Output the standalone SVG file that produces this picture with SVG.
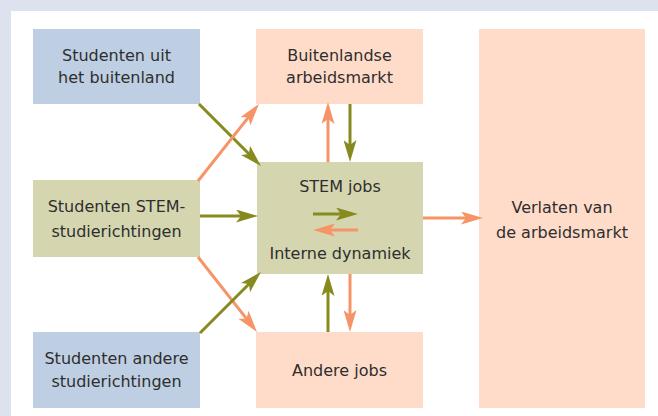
<svg xmlns="http://www.w3.org/2000/svg" width="658" height="416" viewBox="0 0 658 416">
<style>
.bl{fill:#bfcfe3}.pk{fill:#ffdcc9}.gr{fill:#d5d6b0}
text{font-family:"DejaVu Sans","Liberation Sans",sans-serif;font-size:16px;fill:#2e2e2e;text-anchor:middle}
.o{stroke:#878a1e;stroke-width:3;fill:none;marker-end:url(#ho)}
.s{stroke:#f79467;stroke-width:3;fill:none;marker-end:url(#hs)}
</style>
<defs>
<marker id="ho" viewBox="0 0 22 13" markerWidth="22" markerHeight="13" markerUnits="userSpaceOnUse" refX="10" refY="6.5" orient="auto"><path d="M0,0 L22,6.5 L0,13 L5,6.5 z" fill="#878a1e"/></marker>
<marker id="hs" viewBox="0 0 22 13" markerWidth="22" markerHeight="13" markerUnits="userSpaceOnUse" refX="10" refY="6.5" orient="auto"><path d="M0,0 L22,6.5 L0,13 L5,6.5 z" fill="#f79467"/></marker>
</defs>
<rect x="0" y="0" width="658" height="416" fill="#dce3ee"/>
<rect x="11" y="11" width="647" height="405" fill="#ffffff"/>
<g id="n1"><rect class="bl" x="33" y="29" width="167" height="75"/><text x="116.5" y="61">Studenten uit</text><text x="116.5" y="83">het buitenland</text></g>
<g id="n2"><rect class="pk" x="256" y="29" width="167" height="75"/><text x="339.5" y="61">Buitenlandse</text><text x="339.5" y="83">arbeidsmarkt</text></g>
<g id="n3"><rect class="pk" x="479" y="29" width="166" height="379"/><text x="562" y="213">Verlaten van</text><text x="562" y="238">de arbeidsmarkt</text></g>
<g id="n4"><rect class="gr" x="33" y="180" width="167" height="77"/><text x="116.5" y="212">Studenten STEM-</text><text x="116.5" y="237">studierichtingen</text></g>
<g id="n5"><rect class="gr" x="257" y="162" width="166" height="112"/><text x="340" y="192">STEM jobs</text><text x="340" y="259">Interne dynamiek</text></g>
<g id="n6"><rect class="pk" x="256" y="332" width="167" height="76"/><text x="339.5" y="376">Andere jobs</text></g>
<g id="n7"><rect class="bl" x="33" y="332" width="167" height="76"/><text x="116.5" y="364">Studenten andere</text><text x="116.5" y="387">studierichtingen</text></g>
<g id="connectors">
<line class="o" x1="199" y1="104" x2="252.5" y2="157.5"/>
<line class="s" x1="198" y1="181" x2="251.5" y2="113.4"/>
<line class="o" x1="200" y1="216" x2="246" y2="216"/>
<line class="s" x1="198" y1="257" x2="249.6" y2="322.6"/>
<line class="o" x1="200" y1="333" x2="252.5" y2="280.5"/>
<line class="s" x1="328" y1="162" x2="328" y2="114"/>
<line class="o" x1="350" y1="104" x2="350" y2="150"/>
<line class="o" x1="328" y1="332" x2="328" y2="286"/>
<line class="s" x1="350" y1="274" x2="350" y2="320"/>
<line class="s" x1="423" y1="218" x2="471" y2="218"/>
<line class="o" x1="313" y1="214" x2="346" y2="214"/>
<line class="s" x1="358" y1="230" x2="325" y2="230"/>
</g>
</svg>
